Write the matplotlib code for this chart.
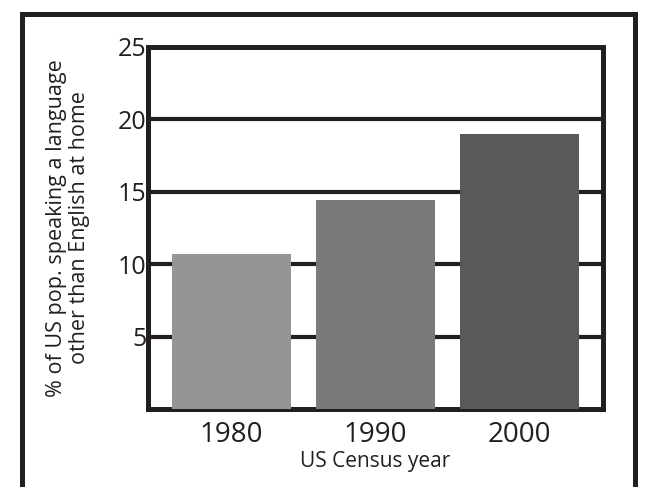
import matplotlib.pyplot as plt
from matplotlib.lines import Line2D

# Data
years = ["1980", "1990", "2000"]
pct_other_language = [10.7, 14.4, 19.0]
bar_colors = ["#959595", "#7a7a7a", "#58595b"]
y_ticks = [5, 10, 15, 20, 25]

ink = "#231f20"
plt.rcParams["font.family"] = ["Open Sans", "DejaVu Sans"]

fig = plt.figure(figsize=(6.47, 4.87), dpi=100)
ax = fig.add_axes([148 / 647, 1 - 409 / 487, (603 - 148) / 647, (409 - 47) / 487])

x = range(len(years))
ax.bar(x, pct_other_language, width=0.83, color=bar_colors, zorder=3)

ax.set_xlim(-0.58, 2.58)
ax.set_ylim(0, 25)
ax.set_yticks(y_ticks)
ax.set_yticklabels([str(v) for v in y_ticks], fontsize=18, color=ink)
ax.set_xticks(list(x))
ax.set_xticklabels(years, fontsize=20, color=ink)
ax.tick_params(length=0, pad=1)
ax.tick_params(axis="x", pad=9)

ax.yaxis.grid(True, color=ink, linewidth=3, zorder=1)
ax.set_axisbelow(True)
for s in ax.spines.values():
    s.set_linewidth(3.6)
    s.set_color(ink)

ax.set_xlabel("US Census year", fontsize=15, color=ink, labelpad=1)
ax.set_ylabel("% of US pop. speaking a language\nother than English at home",
              fontsize=15.5, color=ink, labelpad=20, linespacing=1.15)

# outer frame (open at the bottom)
W, H = 647, 487
pts = [(22, H + 5), (22, 14), (635, 14), (635, H + 5)]
fig.add_artist(Line2D([p[0] / W for p in pts], [1 - p[1] / H for p in pts],
                      transform=fig.transFigure, color=ink, linewidth=3.6,
                      solid_joinstyle="miter"))

fig.savefig("out.png", dpi=100)
